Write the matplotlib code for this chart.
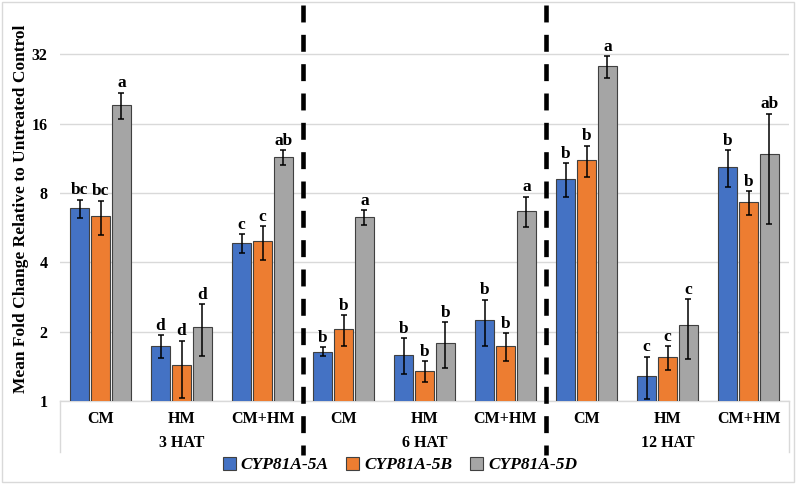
import matplotlib.pyplot as plt
import matplotlib.ticker as mticker
from matplotlib.patches import Rectangle, Patch
import numpy as np

plt.rcParams['font.family'] = ['Liberation Serif', 'DejaVu Serif']

# data (mean fold change and standard error)
treatments = ["CM", "HM", "CM+HM"]
timepoints = ["3 HAT", "6 HAT", "12 HAT"]
genes = ["CYP81A-5A", "CYP81A-5B", "CYP81A-5D"]
colors = ["#4472C4", "#ED7D31", "#A5A5A5"]

mean_5a = [6.87, 1.73, 4.84, 1.64, 1.59, 2.24, 9.24, 1.29, 10.39]
mean_5b = [6.34, 1.43, 4.93, 2.05, 1.35, 1.73, 11.14, 1.55, 7.30]
mean_5d = [19.3, 2.10, 11.44, 6.28, 1.79, 6.71, 28.4, 2.14, 11.8]

se_5a = [0.62, 0.20, 0.46, 0.075, 0.28, 0.51, 1.53, 0.265, 1.92]
se_5b = [1.08, 0.40, 0.82, 0.31, 0.135, 0.245, 1.70, 0.18, 0.87]
se_5d = [2.55, 0.53, 0.83, 0.48, 0.405, 1.00, 3.00, 0.62, 5.90]

letters_5a = ["bc", "d", "c", "b", "b", "b", "b", "c", "b"]
letters_5b = ["bc", "d", "c", "b", "b", "b", "b", "c", "b"]
letters_5d = ["a", "d", "ab", "a", "b", "a", "a", "c", "ab"]

means = [mean_5a, mean_5b, mean_5d]
ses = [se_5a, se_5b, se_5d]
letters = [letters_5a, letters_5b, letters_5d]

fig = plt.figure(figsize=(7.96, 4.84), dpi=100)
ax = fig.add_axes([60 / 796, 1 - 401 / 484, 729 / 796, 396 / 484])

x = np.arange(len(mean_5a))
width = 0.226
offsets = [-0.259, 0, 0.259]

for i in range(3):
    xpos = x + offsets[i]
    ax.bar(xpos, means[i], width, bottom=0, color=colors[i],
           edgecolor="#404040", linewidth=0.8, zorder=3)
    ax.errorbar(xpos, means[i], yerr=ses[i], fmt="none", ecolor="black",
                elinewidth=1.1, capsize=2, capthick=1.1, zorder=4)
    for xp, m, s, lab in zip(xpos, means[i], ses[i], letters[i]):
        ax.annotate(lab, (xp, m + s), xytext=(0, 1), textcoords="offset points",
                    ha="center", va="bottom", fontsize=12.5, fontweight="bold")

ax.set_yscale("log", base=2)
ax.set_ylim(1, 52.5)
ax.set_xlim(-0.5, 8.5)
ax.set_yticks([1, 2, 4, 8, 16, 32])
ax.yaxis.set_major_formatter(mticker.FuncFormatter(lambda v, p: f"{int(round(v))}"))
ax.yaxis.set_minor_locator(mticker.NullLocator())
ax.tick_params(axis="y", length=0, pad=9, labelsize=11.5)
for t in ax.get_yticklabels():
    t.set_fontweight("bold")
ax.set_xticks([])
ax.grid(axis="y", color="#D9D9D9", linewidth=1, zorder=0)
for s in ["top", "right", "left"]:
    ax.spines[s].set_visible(False)
ax.spines["bottom"].set_color("#D9D9D9")
ax.spines["bottom"].set_linewidth(1)
ax.set_ylabel("Mean Fold Change Relative to Untreated Control",
              fontsize=12.5, fontweight="bold")
ax.yaxis.set_label_coords(-0.042, 0.486)

# two-level category axis
trans = ax.get_xaxis_transform()
for k in x:
    ax.text(k, -0.046, treatments[k % 3], transform=trans, ha="center",
            va="center", fontsize=11.5, fontweight="bold")
for g, tp in enumerate(timepoints):
    ax.text(g * 3 + 1, -0.106, tp, transform=trans, ha="center",
            va="center", fontsize=11.5, fontweight="bold")
for xb in [-0.5, 8.5]:
    ax.plot([xb, xb], [0, -0.129], transform=trans, color="#D9D9D9",
            linewidth=1, clip_on=False)

# dashed separators between time points
for xb in [2.5, 5.5]:
    ax.plot([xb, xb], [1.0, -0.137], transform=trans, color="black",
            linewidth=3.3, dashes=(3.7, 2.7), solid_capstyle="butt",
            dash_capstyle="butt", clip_on=False, zorder=5)

handles = [Patch(facecolor=c, edgecolor="#404040", linewidth=0.8) for c in colors]
fig.legend(handles, genes, loc="center", bbox_to_anchor=(400 / 796, 1 - 465 / 484),
           ncol=3, frameon=False, handlelength=0.75, handleheight=0.75,
           handletextpad=0.3, columnspacing=1.0,
           prop={"family": "Liberation Serif", "weight": "bold",
                 "style": "italic", "size": 12.5})

fig.patches.append(Rectangle((2 / 796, 2 / 484), 792 / 796, 480 / 484,
                             transform=fig.transFigure, fill=False,
                             edgecolor="#D9D9D9", linewidth=1))

fig.savefig("out.png", dpi=100)
